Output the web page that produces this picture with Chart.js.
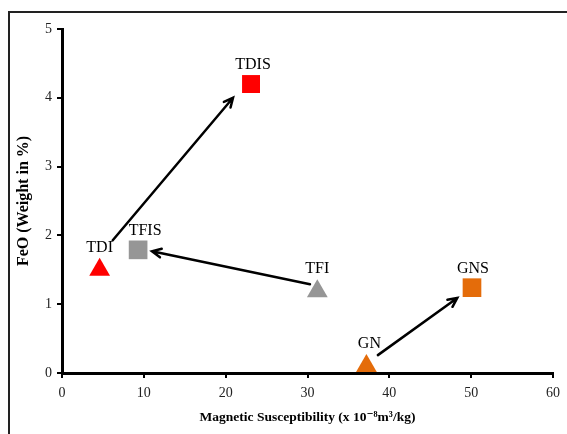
<!DOCTYPE html>
<html>
<head>
<meta charset="utf-8">
<script src="https://cdn.jsdelivr.net/npm/chart.js@4"></script>
<style>
  html, body { margin: 0; padding: 0; background: #fff; }
  #wrap { width: 567px; height: 434px; }
</style>
</head>
<body>
<div id="wrap"><canvas id="c" width="567" height="434"></canvas></div>
<script>
// ---- data ----
const sampleNames = ['TDI', 'TDIS', 'TFI', 'TFIS', 'GN', 'GNS'];
const magSus      = [4.6, 23.1, 31.2, 9.3, 37.2, 50.1];
const feoPct      = [1.50, 4.20, 1.19, 1.79, 0.10, 1.24];
const arrowFromX  = [6.2, 30.3, 38.6];
const arrowFromY  = [1.93, 1.29, 0.26];
const arrowToX    = [20.9, 11.0, 48.3];
const arrowToY    = [4.00, 1.77, 1.09];
const xTicks      = [0, 10, 20, 30, 40, 50, 60];
const yTicks      = [0, 1, 2, 3, 4, 5];

// ---- styles ----
const styleOf = {
  TDI:  { color: '#FF0000', shape: 'triangle', r: 12 },
  TDIS: { color: '#FF0000', shape: 'rect', r: 12.7 },
  TFI:  { color: '#969696', shape: 'triangle', r: 12 },
  TFIS: { color: '#969696', shape: 'rect', r: 13.2 },
  GN:   { color: '#E46C0A', shape: 'triangle', r: 12 },
  GNS:  { color: '#E46C0A', shape: 'rect', r: 13.2 }
};
const labelDx = { TDI: 0, TDIS: 2, TFI: 0, TFIS: 7, GN: 3, GNS: 1 };

const datasets = sampleNames.map((n, i) => ({
  label: n,
  data: [{ x: magSus[i], y: feoPct[i] }],
  pointStyle: styleOf[n].shape,
  pointRadius: styleOf[n].r,
  pointHoverRadius: styleOf[n].r,
  backgroundColor: styleOf[n].color,
  borderColor: styleOf[n].color,
  borderWidth: 0,
  clip: false
}));

const serif = "'Liberation Serif', 'DejaVu Serif', serif";

const decor = {
  id: 'decor',
  beforeDraw(chart) {
    const ctx = chart.ctx;
    ctx.save();
    ctx.strokeStyle = '#222';
    ctx.lineWidth = 2;
    ctx.beginPath();
    ctx.moveTo(9, 440);
    ctx.lineTo(9, 12);
    ctx.lineTo(580, 12);
    ctx.stroke();
    ctx.restore();
  },
  afterDatasetsDraw(chart) {
    const ctx = chart.ctx;
    const xs = chart.scales.x, ys = chart.scales.y;
    ctx.save();
    // arrows
    ctx.strokeStyle = '#000';
    ctx.lineWidth = 2.5;
    ctx.lineCap = 'round';
    for (let i = 0; i < arrowFromX.length; i++) {
      const x1 = xs.getPixelForValue(arrowFromX[i]);
      const y1 = ys.getPixelForValue(arrowFromY[i]);
      const x2 = xs.getPixelForValue(arrowToX[i]);
      const y2 = ys.getPixelForValue(arrowToY[i]);
      const a = Math.atan2(y2 - y1, x2 - x1);
      const h = 10, spread = 0.45;
      ctx.beginPath();
      ctx.moveTo(x1, y1);
      ctx.lineTo(x2, y2);
      ctx.moveTo(x2 - h * Math.cos(a - spread), y2 - h * Math.sin(a - spread));
      ctx.lineTo(x2, y2);
      ctx.lineTo(x2 - h * Math.cos(a + spread), y2 - h * Math.sin(a + spread));
      ctx.stroke();
    }
    // labels
    ctx.fillStyle = '#000';
    ctx.font = "16px " + serif;
    ctx.textAlign = 'center';
    ctx.textBaseline = 'bottom';
    sampleNames.forEach((n, i) => {
      const px = xs.getPixelForValue(magSus[i]);
      const py = ys.getPixelForValue(feoPct[i]);
      const st = styleOf[n];
      const top = st.shape === 'rect' ? py - st.r * Math.SQRT1_2 : py - st.r;
      ctx.fillText(n, px + labelDx[n], top - 2);
    });
    ctx.restore();
  }
};

new Chart(document.getElementById('c'), {
  type: 'scatter',
  data: { datasets },
  plugins: [decor],
  options: {
    responsive: false,
    animation: false,
    devicePixelRatio: 1,
    layout: { padding: { top: 29, right: 14, left: 0, bottom: 0 } },
    plugins: { legend: { display: false }, tooltip: { enabled: false } },
    scales: {
      x: {
        type: 'linear',
        min: 0, max: 60,
        afterBuildTicks(s) { s.ticks = xTicks.map(v => ({ value: v })); },
        afterFit(s) { s.height = 61; },
        border: { display: true, color: '#000', width: 3 },
        grid: { display: true, drawOnChartArea: false, drawTicks: true, tickLength: 5, color: '#000', lineWidth: 2 },
        ticks: { color: '#222', padding: 7, font: { family: serif, size: 14 }, maxRotation: 0 },
        title: {
          display: true,
          text: 'Magnetic Susceptibility (x 10\u207B\u2078m\u00B3/kg)',
          color: '#000',
          font: { family: serif, size: 13.5, weight: 'bold' },
          padding: { top: 0, bottom: 8 }
        }
      },
      y: {
        type: 'linear',
        min: 0, max: 5,
        afterBuildTicks(s) { s.ticks = yTicks.map(v => ({ value: v })); },
        afterFit(s) { s.width = 62; },
        border: { display: true, color: '#000', width: 3 },
        grid: { display: true, drawOnChartArea: false, drawTicks: true, tickLength: 5, color: '#000', lineWidth: 2 },
        ticks: { color: '#222', padding: 5, font: { family: serif, size: 14 } },
        title: {
          display: true,
          text: 'FeO (Weight in %)',
          color: '#000',
          font: { family: serif, size: 16, weight: 'bold' },
          padding: { top: 14, bottom: 0 }
        }
      }
    }
  }
});
</script>
</body>
</html>
